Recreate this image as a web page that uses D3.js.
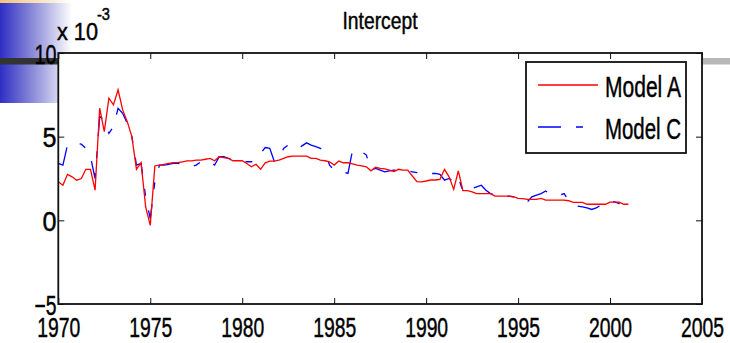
<!DOCTYPE html>
<html>
<head>
<meta charset="utf-8">
<script src="https://cdn.jsdelivr.net/npm/d3@7"></script>
<style>
  html, body { margin: 0; padding: 0; background: #fff; }
  svg { display: block; }
  text { font-family: "Liberation Sans", Arial, Helvetica, sans-serif; fill: #000; stroke: #000; stroke-width: 0.45px; }
</style>
</head>
<body>
<svg id="chart" width="730" height="343"></svg>
<script>
// Quarterly sample dates, 1970Q1 .. 2001Q1
const quarters = d3.range(0, 125).map(i => 1970 + i * 0.25);

// Intercept estimates (x 10^-3)
const modelA = [
  2.3, 2.1, 2.75, 2.6, 2.4, 2.5, 3.05, 3.05,
  1.8, 6.7, 5.3, 7.3, 6.9, 7.8, 6.6, 5.9,
  5.0, 3.05, 3.45, 0.8, -0.3, 3.25, 3.3, 3.35,
  3.4, 3.45, 3.45, 3.5, 3.55, 3.55, 3.6, 3.6,
  3.65, 3.7, 3.56, 3.8, 3.75, 3.7, 3.56, 3.56,
  3.56, 3.4, 3.2, 3.35, 3.05, 3.44, 3.54, 3.54,
  3.6, 3.7, 3.8, 3.84, 3.84, 3.84, 3.84, 3.7,
  3.7, 3.6, 3.56, 3.5, 3.3, 3.54, 3.44, 3.44,
  3.37, 3.3, 3.26, 3.2, 2.96, 3.17, 3.1, 3.07,
  3.0, 2.92, 3.05, 3.0, 3.0, 2.65, 2.31, 2.3,
  2.35, 2.41, 2.41, 2.45, 3.05, 2.6, 1.85, 2.96,
  1.77, 1.77, 1.7, 1.6, 1.6, 1.6, 1.6, 1.45,
  1.45, 1.45, 1.45, 1.41, 1.31, 1.3, 1.25, 1.25,
  1.25, 1.31, 1.21, 1.21, 1.21, 1.21, 1.21, 1.17,
  1.07, 1.07, 1.07, 0.96, 0.96, 0.96, 0.96, 0.96,
  1.09, 1.09, 1.09, 0.96, 0.96
];
const modelC = [
  3.4, 3.3, 4.5, 4.6, 4.6, 4.55, 4.3, 3.8,
  2.5, 6.2, 6.0, 5.2, 5.6, 6.7, 6.4, 5.8,
  5.0, 3.3, 3.4, 1.4, 0.1, 2.3, 3.3, 3.3,
  3.35, 3.4, 3.4, 3.35, 3.3, 3.2, 3.3, 3.5,
  3.6, 3.5, 3.3, 3.8, 3.8, 3.7, 3.65, 3.6,
  3.55, 3.5, 3.5, 3.6, 4.0, 4.35, 4.3, 3.5,
  3.7, 4.3, 4.5, 4.35, 4.25, 4.45, 4.63, 4.5,
  4.4, 4.3, 4.05, 3.3, 3.0, 3.0, 2.9, 2.8,
  4.2, 4.15, 4.1, 3.9, 3.0, 3.1, 3.0, 2.9,
  2.95, 3.0, 3.0, 3.0, 2.95, 2.9, 2.85, 2.8,
  2.75, 2.8, 2.8, 2.75, 2.4, 2.5, 2.3, 2.6,
  1.7, 1.8, 1.9, 2.0, 2.1, 1.8, 1.6, 1.5,
  1.4, 1.4, 1.45, 1.4, 1.3, 1.3, 1.1, 1.4,
  1.5, 1.6, 1.75, 1.55, 1.5, 1.5, 1.6, 1.2,
  1.05, 0.85, 0.8, 0.75, 0.65, 0.75, 0.9, 1.1,
  1.17, 1.1, 1.0, 0.95, 0.9
];

const xTicks = [1970, 1975, 1980, 1985, 1990, 1995, 2000, 2005];
const yTicks = [-5, 0, 5, 10];
const seriesNames = ["Model A", "Model C"];
const chartTitle = "Intercept";

const svg = d3.select("#chart");

// ---- slide backdrop: gradient block, thin warm strip, rule bars ----
const defs = svg.append("defs");
const g1 = defs.append("linearGradient").attr("id", "blueFade").attr("x1", 0).attr("x2", 1).attr("y1", 0).attr("y2", 0);
g1.append("stop").attr("offset", "0%").attr("stop-color", "#2e2ec4");
g1.append("stop").attr("offset", "45%").attr("stop-color", "#8a8ad8");
g1.append("stop").attr("offset", "100%").attr("stop-color", "#ffffff");
const g2 = defs.append("linearGradient").attr("id", "warmFade").attr("x1", 0).attr("x2", 1).attr("y1", 0).attr("y2", 0);
g2.append("stop").attr("offset", "0%").attr("stop-color", "#f2c27a");
g2.append("stop").attr("offset", "100%").attr("stop-color", "#ffffff");

svg.append("rect").attr("x", 0).attr("y", 3).attr("width", 72).attr("height", 100).attr("fill", "url(#blueFade)");
svg.append("rect").attr("x", 0).attr("y", 0).attr("width", 72).attr("height", 3).attr("fill", "url(#warmFade)");
svg.append("rect").attr("x", 0).attr("y", 58).attr("width", 60).attr("height", 6.5).attr("fill", "#333333");
svg.append("rect").attr("x", 702).attr("y", 58).attr("width", 28).attr("height", 6.5).attr("fill", "#b8b8b8");

// ---- plot geometry ----
const plotL = 58.3, plotR = 702, plotT = 53, plotB = 304;
const x = d3.scaleLinear().domain([1970, 2005]).range([plotL, plotR]);
const y = d3.scaleLinear().domain([-5, 10]).range([plotB, plotT]);

svg.append("rect").attr("x", plotL).attr("y", plotT).attr("width", plotR - plotL).attr("height", plotB - plotT).attr("fill", "#fff");

// ---- series ----
const line = d3.line().x(d => x(d[0])).y(d => y(d[1]));
const dataA = quarters.map((q, i) => [q, modelA[i]]);
const dataC = quarters.map((q, i) => [q, modelC[i]]);

svg.append("path").datum(dataC).attr("d", line)
  .attr("fill", "none").attr("stroke", "#0000ff").attr("stroke-width", 1.3)
  .attr("stroke-dasharray", "23,15,7,15");
svg.append("path").datum(dataA).attr("d", line)
  .attr("fill", "none").attr("stroke", "#ff0000").attr("stroke-width", 1.3);

// ---- axes (ticks point inward on all four sides) ----
const tickLen = 6;
const axB = svg.append("g").attr("transform", `translate(0,${plotB})`)
  .call(d3.axisBottom(x).tickValues(xTicks).tickSizeInner(-tickLen).tickSizeOuter(0).tickFormat(d3.format("d")));
const axT = svg.append("g").attr("transform", `translate(0,${plotT})`)
  .call(d3.axisTop(x).tickValues(xTicks).tickSizeInner(-tickLen).tickSizeOuter(0).tickFormat(""));
const axL = svg.append("g").attr("transform", `translate(${plotL},0)`)
  .call(d3.axisLeft(y).tickValues(yTicks).tickSizeInner(-tickLen).tickSizeOuter(0).tickFormat(d3.format("d")));
const axR = svg.append("g").attr("transform", `translate(${plotR},0)`)
  .call(d3.axisRight(y).tickValues(yTicks).tickSizeInner(-tickLen).tickSizeOuter(0).tickFormat(""));

[axB, axT, axL, axR].forEach(a => {
  a.selectAll(".domain").remove();
  a.selectAll(".tick line").attr("stroke", "#111").attr("stroke-width", 1);
});

// condensed tick labels
axB.selectAll(".tick text")
  .attr("y", 33).attr("dy", 0)
  .attr("font-size", 28)
  .attr("font-family", "Liberation Sans, Arial, sans-serif")
  .attr("fill", "#000")
  .attr("textLength", 43).attr("lengthAdjust", "spacingAndGlyphs");
axL.selectAll(".tick text")
  .attr("x", -1.8).attr("dy", 10)
  .attr("font-size", 28)
  .attr("font-family", "Liberation Sans, Arial, sans-serif")
  .attr("fill", "#000")
  .each(function(d) {
    const s = String(d);
    const w = s.length === 1 ? 14 : 22;
    d3.select(this).attr("textLength", w).attr("lengthAdjust", "spacingAndGlyphs");
  });

// frame
svg.append("rect").attr("x", plotL).attr("y", plotT).attr("width", plotR - plotL).attr("height", plotB - plotT)
  .attr("fill", "none").attr("stroke", "#111").attr("stroke-width", 1.8);

// ---- title and exponent ----
svg.append("text").attr("x", 380).attr("y", 29).attr("text-anchor", "middle")
  .attr("font-size", 24).attr("textLength", 75).attr("lengthAdjust", "spacingAndGlyphs").text(chartTitle);
svg.append("text").attr("x", 57).attr("y", 40)
  .attr("font-size", 24).attr("textLength", 41).attr("lengthAdjust", "spacingAndGlyphs").text("x 10");
svg.append("text").attr("x", 97).attr("y", 20)
  .attr("font-size", 16).attr("textLength", 13).attr("lengthAdjust", "spacingAndGlyphs").text("-3");

// ---- legend ----
const lg = svg.append("g");
lg.append("rect").attr("x", 526).attr("y", 62).attr("width", 160).attr("height", 91)
  .attr("fill", "#fff").attr("stroke", "#111").attr("stroke-width", 1.8);
const legendRows = [
  { name: seriesNames[0], color: "#ff0000", dash: null, y: 85 },
  { name: seriesNames[1], color: "#0000ff", dash: "23,15,7,15", y: 127 }
];
legendRows.forEach(r => {
  lg.append("line").attr("x1", 538).attr("x2", 598).attr("y1", r.y).attr("y2", r.y)
    .attr("stroke", r.color).attr("stroke-width", 1.3)
    .attr("stroke-dasharray", r.dash);
  lg.append("text").attr("x", 605).attr("y", r.y + 12)
    .attr("font-size", 30).attr("textLength", 76).attr("lengthAdjust", "spacingAndGlyphs").text(r.name);
});
</script>
</body>
</html>
